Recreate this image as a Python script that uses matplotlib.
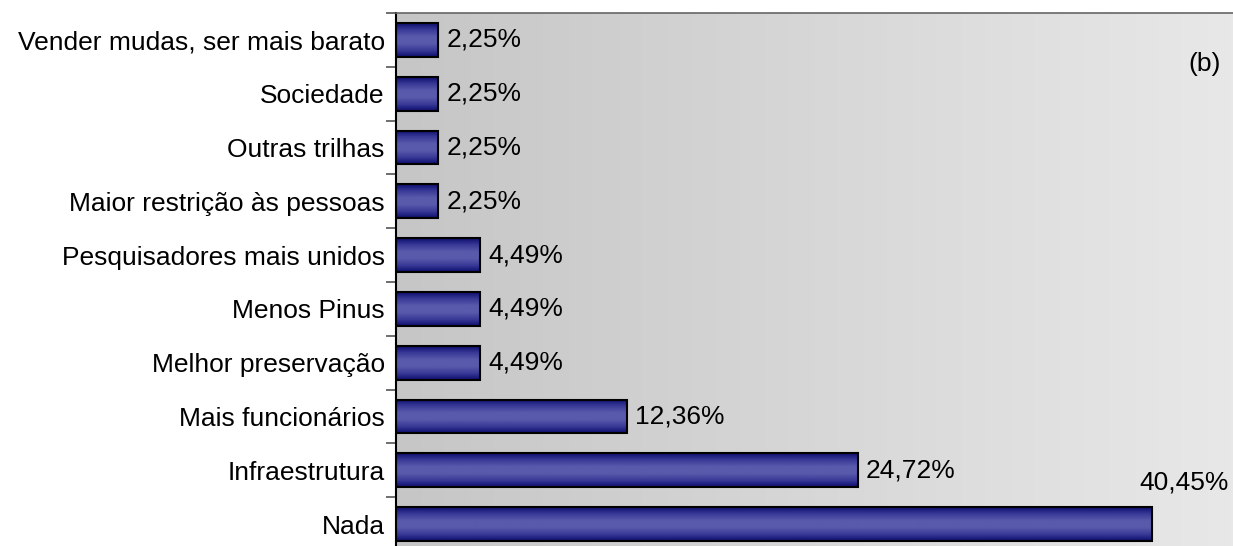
import matplotlib
matplotlib.use('Agg')
import matplotlib.pyplot as plt
import numpy as np

# categorias de baixo para cima
categorias = ['Nada', 'Infraestrutura', 'Mais funcionários', 'Melhor preservação',
              'Menos Pinus', 'Pesquisadores mais unidos', 'Maior restrição às pessoas',
              'Outras trilhas', 'Sociedade', 'Vender mudas, ser mais barato']
valores = [40.45, 24.72, 12.36, 4.49, 4.49, 4.49, 2.25, 2.25, 2.25, 2.25]

plt.rcParams['font.family'] = ['Liberation Sans', 'DejaVu Sans']
plt.rcParams['font.size'] = 19

fig = plt.figure(figsize=(12.33, 5.46), dpi=100)
ax = fig.add_axes([0.321, -0.009, 0.679, 0.985])

y = np.arange(len(categorias))
ax.set_xlim(0, 44.8)
ax.set_ylim(-0.5, len(categorias) - 0.5)

# fundo em degradê (cinza escuro -> claro)
bg = np.linspace(0, 1, 256).reshape(1, -1)
bg_cmap = matplotlib.colors.LinearSegmentedColormap.from_list('bg', ['#c6c6c6', '#e8e8e8'])
ax.imshow(bg, cmap=bg_cmap, aspect='auto', extent=[0, 1, 0, 1],
          transform=ax.transAxes, zorder=0)

bars = ax.barh(y, valores, height=0.63, color='none', edgecolor='black',
               linewidth=1.5, zorder=3)

# degradê vertical nas barras
bar_cmap = matplotlib.colors.LinearSegmentedColormap.from_list(
    'bar', ['#0d0d6e', '#3a3a98', '#5a5aac', '#5a5aac', '#3a3a98', '#0d0d6e'])
grad = np.linspace(0, 1, 128).reshape(-1, 1)
for b in bars:
    x0, y0, w, h = b.get_x(), b.get_y(), b.get_width(), b.get_height()
    im = ax.imshow(grad, cmap=bar_cmap, aspect='auto',
                   extent=[x0, x0 + w, y0, y0 + h], zorder=2)
    im.set_clip_path(b)

# rótulos de valor
for i, v in enumerate(valores):
    txt = f'{v:.2f}'.replace('.', ',') + '%'
    if i == 0:
        ax.annotate(txt, xy=(0.995, i + 0.78), xycoords=('axes fraction', 'data'),
                    ha='right', va='center', zorder=4)
    else:
        ax.annotate(txt, xy=(v, i), xytext=(6, 0), textcoords='offset points',
                    ha='left', va='center', zorder=4)

ax.set_yticks(y)
ax.set_yticklabels(categorias)
ax.tick_params(axis='y', which='major', length=0, pad=8)
ax.set_yticks(np.arange(-0.5, len(categorias), 1), minor=True)
ax.tick_params(axis='y', which='minor', length=7, width=1.2, color='#555555')
ax.set_xticks([])

for s in ['right', 'bottom']:
    ax.spines[s].set_visible(False)
ax.spines['left'].set_color('black')
ax.spines['left'].set_linewidth(1.5)
ax.spines['top'].set_color('#666666')
ax.spines['top'].set_linewidth(1.2)

ax.text(0.985, 0.905, '(b)', transform=ax.transAxes, ha='right', va='center')

plt.savefig('out.png', dpi=100)
